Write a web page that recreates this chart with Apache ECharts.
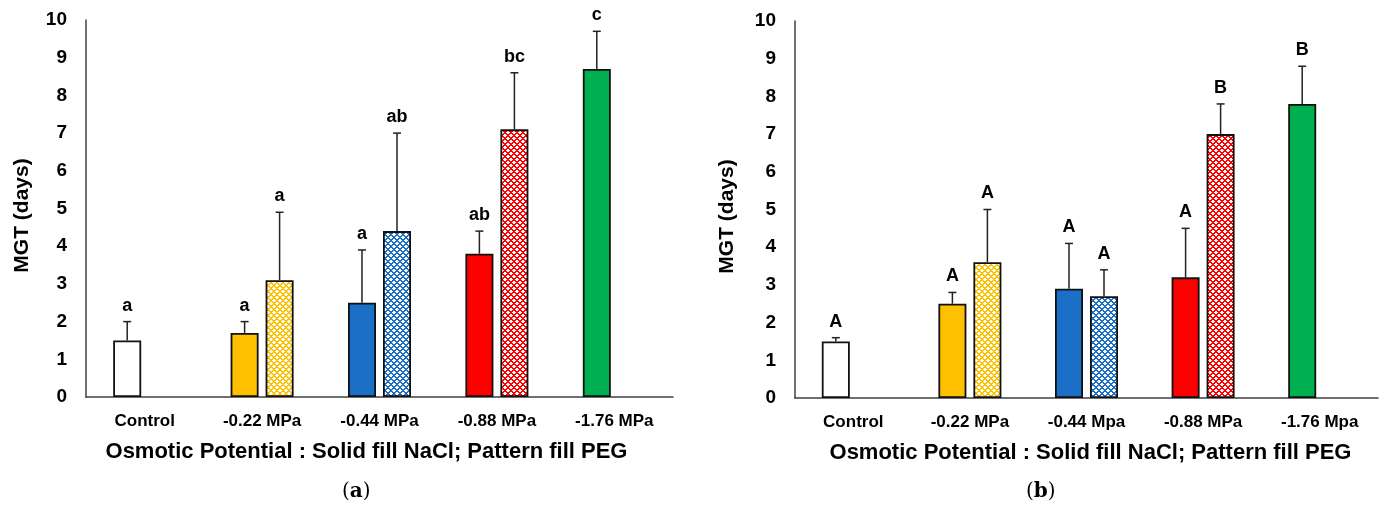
<!DOCTYPE html>
<html>
<head>
<meta charset="utf-8">
<script src="https://cdn.jsdelivr.net/npm/echarts@6/dist/echarts.min.js"></script>
<style>
html, body { margin: 0; padding: 0; background: #fff; }
#main { width: 1383px; height: 509px; }
</style>
</head>
<body>
<div id="main"></div>
<script>
// categories and values
var categoriesA = ['Control', '-0.22 MPa', '-0.44 MPa', '-0.88 MPa', '-1.76 MPa'];
var categoriesB = ['Control', '-0.22 MPa', '-0.44 Mpa', '-0.88 MPa', '-1.76 Mpa'];
var yTicks = [0, 1, 2, 3, 4, 5, 6, 7, 8, 9, 10];

// panel (a)
var naclA = [1.5, 1.7, 2.5, 3.8, 8.7];
var naclErrA = [0.5, 0.3, 1.4, 0.6, 1.0];
var naclLetA = ['a', 'a', 'a', 'ab', 'c'];
var pegA = [null, 3.1, 4.4, 7.1, null];
var pegErrA = [null, 1.8, 2.6, 1.5, null];
var pegLetA = ['', 'a', 'ab', 'bc', ''];

// panel (b)
var naclB = [1.5, 2.5, 2.9, 3.2, 7.8];
var naclErrB = [0.1, 0.3, 1.2, 1.3, 1.0];
var naclLetB = ['A', 'A', 'A', 'A', 'B'];
var pegB = [null, 3.6, 2.7, 7.0, null];
var pegErrB = [null, 1.4, 0.7, 0.8, null];
var pegLetB = ['', 'A', 'A', 'B', ''];

var colors = ['#ffffff', '#ffc000', '#1b6fc6', '#ff0000', '#00b050'];

var FONT = 'Liberation Sans, Arial, sans-serif';
var BAR_W = 28;
var BAR_OFF = 17.5;

// diagonal lattice with white crosses, used for the PEG bars
function makePattern(color) {
    var c = document.createElement('canvas');
    c.width = 6;
    c.height = 6;
    var ctx = c.getContext('2d');
    ctx.fillStyle = '#ffffff';
    ctx.fillRect(0, 0, 6, 6);
    ctx.fillStyle = color;
    for (var x = 0; x < 6; x++) {
        for (var y = 0; y < 6; y++) {
            var d1 = (x + y) % 6, d2 = (x - y + 6) % 6;
            if (d1 < 2 || d2 < 2) ctx.fillRect(x, y, 1, 1);
        }
    }
    return { image: c, repeat: 'repeat' };
}

function barData(vals, patterned) {
    var out = [];
    for (var i = 0; i < vals.length; i++) {
        if (vals[i] == null) {
            out.push(null);
            continue;
        }
        out.push({
            value: vals[i],
            itemStyle: { color: patterned ? makePattern(colors[i]) : colors[i] }
        });
    }
    return out;
}

function errSeries(axisIdx, vals, errs, letters, sign) {
    var data = [];
    for (var i = 0; i < vals.length; i++) {
        if (vals[i] == null) continue;
        data.push([i, vals[i], vals[i] + errs[i], i]);
    }
    return {
        type: 'custom',
        xAxisIndex: axisIdx,
        yAxisIndex: axisIdx,
        z: 5,
        data: data,
        renderItem: function (params, api) {
            var base = api.coord([api.value(0), api.value(1)]);
            var top = api.coord([api.value(0), api.value(2)]);
            var x = base[0] + sign * BAR_OFF;
            var lineStyle = { stroke: '#222', lineWidth: 1.5 };
            return {
                type: 'group',
                children: [
                    { type: 'line', shape: { x1: x, y1: base[1], x2: x, y2: top[1] }, style: lineStyle },
                    { type: 'line', shape: { x1: x - 4, y1: top[1], x2: x + 4, y2: top[1] }, style: lineStyle },
                    {
                        type: 'text',
                        style: {
                            text: letters[api.value(3)],
                            x: x,
                            y: top[1] - 7,
                            align: 'center',
                            verticalAlign: 'bottom',
                            font: 'bold 18px ' + FONT,
                            fill: '#000'
                        }
                    }
                ]
            };
        }
    };
}

function xAxis(idx, cats) {
    return {
        type: 'category',
        gridIndex: idx,
        data: cats,
        axisTick: { show: false },
        axisLine: { lineStyle: { color: '#404040', width: 1.5 } },
        axisLabel: { color: '#000', fontFamily: FONT, fontWeight: 'bold', fontSize: 17, margin: 16 },
        name: 'Osmotic Potential : Solid fill NaCl; Pattern fill PEG',
        nameLocation: 'middle',
        nameGap: 44,
        nameTextStyle: { color: '#000', fontFamily: FONT, fontWeight: 'bold', fontSize: 22, padding: idx === 0 ? [0, 26, 0, 0] : [0, 0, 0, 8] }
    };
}

function yAxis(idx, gap) {
    return {
        type: 'value',
        gridIndex: idx,
        min: yTicks[0],
        max: yTicks[yTicks.length - 1],
        interval: 1,
        splitLine: { show: false },
        axisTick: { show: false },
        axisLine: { show: true, lineStyle: { color: '#404040', width: 1.5 } },
        axisLabel: { color: '#000', fontFamily: FONT, fontWeight: 'bold', fontSize: 19, margin: 19 },
        name: 'MGT (days)',
        nameLocation: 'middle',
        nameRotate: 90,
        nameGap: gap,
        nameTextStyle: { color: '#000', fontFamily: FONT, fontWeight: 'bold', fontSize: 21, padding: [0, 14, 0, 0] }
    };
}

function bar(idx, vals, patterned) {
    return {
        type: 'bar',
        xAxisIndex: idx,
        yAxisIndex: idx,
        barWidth: BAR_W,
        barGap: '25%',
        data: barData(vals, patterned),
        itemStyle: { borderColor: '#111', borderWidth: 1.8 }
    };
}

var myChart = echarts.init(document.getElementById('main'));
myChart.setOption({
    animation: false,
    backgroundColor: '#fff',
    grid: [
        { left: 86, top: 20, width: 587, height: 377 },
        { left: 795, top: 21, width: 583, height: 377 }
    ],
    xAxis: [xAxis(0, categoriesA), xAxis(1, categoriesB)],
    yAxis: [yAxis(0, 53), yAxis(1, 57)],
    series: [
        bar(0, naclA, false),
        bar(0, pegA, true),
        bar(1, naclB, false),
        bar(1, pegB, true),
        errSeries(0, naclA, naclErrA, naclLetA, -1),
        errSeries(0, pegA, pegErrA, pegLetA, 1),
        errSeries(1, naclB, naclErrB, naclLetB, -1),
        errSeries(1, pegB, pegErrB, pegLetB, 1)
    ],
    graphic: [
        {
            type: 'text', left: 342, top: 482,
            style: {
                text: '({b|a})',
                font: '20px DejaVu Serif, serif',
                fill: '#000',
                rich: { b: { fontWeight: 'bold', fontSize: 20, fontFamily: 'DejaVu Serif, serif' } }
            }
        },
        {
            type: 'text', left: 1026, top: 482,
            style: {
                text: '({b|b})',
                font: '20px DejaVu Serif, serif',
                fill: '#000',
                rich: { b: { fontWeight: 'bold', fontSize: 20, fontFamily: 'DejaVu Serif, serif' } }
            }
        }
    ]
});
</script>
</body>
</html>
